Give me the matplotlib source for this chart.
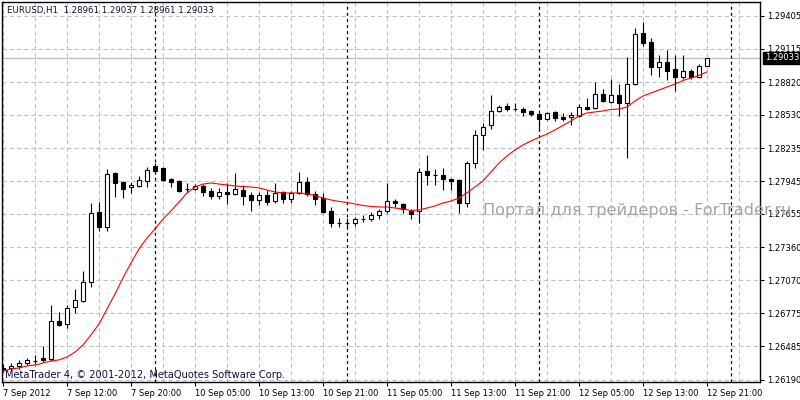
import matplotlib
matplotlib.use('Agg')
import matplotlib.pyplot as plt
import numpy as np

plt.rcParams['lines.scale_dashes'] = False
plt.rcParams['font.family'] = ['DejaVu Sans']

# EURUSD H1, 7 Sep 2012 04:00 .. 12 Sep 2012 21:00
opens = [1.26284, 1.26293, 1.26311, 1.26337, 1.26355, 1.26381, 1.26372, 1.26708, 1.26682, 1.26832,
         1.26885, 1.27053, 1.27672, 1.27539, 1.28017, 1.27937, 1.27893, 1.27902, 1.27946, 1.28079,
         1.28061, 1.27964, 1.27946, 1.27875, 1.27875, 1.27902, 1.27858, 1.27813, 1.27849, 1.27831,
         1.27866, 1.27822, 1.27778, 1.27822, 1.27769, 1.27849, 1.27787, 1.27840, 1.27937, 1.27831,
         1.27796, 1.27681, 1.27575, 1.27575, 1.27575, 1.27610, 1.27610, 1.27645, 1.27681, 1.27769,
         1.27743, 1.27681, 1.27681, 1.28034, 1.27999, 1.27999, 1.27964, 1.27955, 1.27751, 1.28105,
         1.28353, 1.28441, 1.28565, 1.28609, 1.28582, 1.28582, 1.28565, 1.28538, 1.28494, 1.28556,
         1.28512, 1.28512, 1.28521, 1.28600, 1.28591, 1.28715, 1.28644, 1.28706, 1.28636, 1.28803,
         1.29254, 1.29175, 1.28954, 1.28998, 1.28936, 1.28865, 1.28918, 1.28865, 1.28961]
highs = [1.26328, 1.26337, 1.26364, 1.26381, 1.26408, 1.26487, 1.26850, 1.26788, 1.26850, 1.26991,
         1.27150, 1.27751, 1.27760, 1.28052, 1.28026, 1.27946, 1.27937, 1.27990, 1.28070, 1.28105,
         1.28070, 1.27973, 1.27955, 1.27928, 1.27919, 1.27919, 1.27884, 1.27884, 1.27928, 1.28017,
         1.27911, 1.27849, 1.27849, 1.27866, 1.27928, 1.27858, 1.27858, 1.28026, 1.27981, 1.27858,
         1.27840, 1.27716, 1.27619, 1.27619, 1.27628, 1.27645, 1.27672, 1.27698, 1.27928, 1.27787,
         1.27751, 1.27698, 1.28061, 1.28176, 1.28052, 1.28061, 1.27973, 1.27964, 1.28123, 1.28397,
         1.28459, 1.28706, 1.28618, 1.28636, 1.28636, 1.28600, 1.28574, 1.28547, 1.28556, 1.28565,
         1.28547, 1.28556, 1.28627, 1.28680, 1.28821, 1.28759, 1.28848, 1.28803, 1.29042, 1.29299,
         1.29352, 1.29210, 1.29060, 1.29104, 1.29060, 1.29060, 1.28936, 1.28980, 1.29037]
lows = [1.26258, 1.26266, 1.26284, 1.26319, 1.26328, 1.26346, 1.26355, 1.26664, 1.26647, 1.26779,
        1.26876, 1.27009, 1.27504, 1.27504, 1.27805, 1.27796, 1.27840, 1.27893, 1.27893, 1.28026,
        1.27946, 1.27893, 1.27849, 1.27840, 1.27866, 1.27813, 1.27787, 1.27787, 1.27743, 1.27822,
        1.27734, 1.27681, 1.27734, 1.27734, 1.27751, 1.27751, 1.27751, 1.27831, 1.27813, 1.27734,
        1.27663, 1.27539, 1.27539, 1.27530, 1.27548, 1.27584, 1.27592, 1.27610, 1.27663, 1.27716,
        1.27663, 1.27610, 1.27575, 1.27911, 1.27911, 1.27866, 1.27866, 1.27663, 1.27716, 1.28061,
        1.28220, 1.28406, 1.28556, 1.28565, 1.28565, 1.28521, 1.28521, 1.28397, 1.28485, 1.28476,
        1.28476, 1.28441, 1.28512, 1.28574, 1.28582, 1.28644, 1.28636, 1.28521, 1.28149, 1.28795,
        1.29139, 1.28883, 1.28865, 1.28839, 1.28742, 1.28848, 1.28848, 1.28857, 1.28961]
closes = [1.26293, 1.26311, 1.26337, 1.26364, 1.26357, 1.26364, 1.26708, 1.26673, 1.26823, 1.26894,
          1.27053, 1.27663, 1.27539, 1.28008, 1.27928, 1.27875, 1.27911, 1.27955, 1.28043, 1.28034,
          1.27955, 1.27937, 1.27858, 1.27877, 1.27902, 1.27849, 1.27813, 1.27849, 1.27831, 1.27875,
          1.27813, 1.27778, 1.27822, 1.27760, 1.27840, 1.27787, 1.27840, 1.27937, 1.27831, 1.27787,
          1.27672, 1.27575, 1.27577, 1.27574, 1.27610, 1.27612, 1.27645, 1.27681, 1.27769, 1.27751,
          1.27698, 1.27654, 1.28026, 1.27999, 1.28001, 1.27964, 1.27946, 1.27751, 1.28105, 1.28353,
          1.28423, 1.28565, 1.28600, 1.28582, 1.28584, 1.28556, 1.28538, 1.28494, 1.28547, 1.28503,
          1.28494, 1.28529, 1.28600, 1.28582, 1.28715, 1.28653, 1.28706, 1.28636, 1.28803, 1.29245,
          1.29166, 1.28954, 1.28998, 1.28918, 1.28865, 1.28918, 1.28865, 1.28963, 1.29033]
# moving average (red line)
ma = [1.26266, 1.26284, 1.26293, 1.26311, 1.26319, 1.26337, 1.26355, 1.26364, 1.26390, 1.26434,
      1.26496, 1.26585, 1.26682, 1.26814, 1.26947, 1.27089, 1.27221, 1.27345, 1.27442, 1.27522,
      1.27610, 1.27681, 1.27760, 1.27840, 1.27893, 1.27919, 1.27928, 1.27919, 1.27911, 1.27902,
      1.27897, 1.27893, 1.27884, 1.27866, 1.27849, 1.27840, 1.27840, 1.27840, 1.27831, 1.27818,
      1.27796, 1.27778, 1.27765, 1.27756, 1.27743, 1.27729, 1.27721, 1.27716, 1.27716, 1.27707,
      1.27698, 1.27685, 1.27690, 1.27707, 1.27725, 1.27751, 1.27769, 1.27796, 1.27840, 1.27893,
      1.27946, 1.28026, 1.28105, 1.28167, 1.28220, 1.28264, 1.28300, 1.28331, 1.28361, 1.28397,
      1.28437, 1.28476, 1.28521, 1.28547, 1.28556, 1.28565, 1.28578, 1.28582, 1.28600, 1.28653,
      1.28697, 1.28724, 1.28750, 1.28777, 1.28803, 1.28834, 1.28857, 1.28879, 1.28910]

price_ticks = [1.29405, 1.29115, 1.28820, 1.28530, 1.28235, 1.27945,
               1.27655, 1.27360, 1.27070, 1.26775, 1.26485, 1.26190]
time_labels = ["7 Sep 2012", "7 Sep 12:00", "7 Sep 20:00", "10 Sep 05:00",
               "10 Sep 13:00", "10 Sep 21:00", "11 Sep 05:00", "11 Sep 13:00",
               "11 Sep 21:00", "12 Sep 05:00", "12 Sep 13:00", "12 Sep 21:00"]
day_starts = [19, 43, 67, 91]   # bar index of 00:00 for 10, 11, 12, 13 Sep

fig = plt.figure(figsize=(8, 4), dpi=100)
ax = fig.add_axes([2 / 800, 18 / 400, 758 / 800, 380 / 400])

x = np.arange(len(closes))
o = np.array(opens)
c = np.array(closes)

ax.vlines(x, lows, highs, color='black', linewidth=0.8, zorder=3)
up = c >= o
body = np.maximum(np.abs(c - o), 0.000012)
ax.bar(x[up], body[up], bottom=np.minimum(o, c)[up], width=0.6,
       color='white', edgecolor='black', linewidth=0.8, zorder=4)
ax.bar(x[~up], body[~up], bottom=np.minimum(o, c)[~up], width=0.6,
       color='black', edgecolor='black', linewidth=0.8, zorder=4)

ax.plot(x, ma, color='red', linewidth=0.8, zorder=5)

ax.axhline(closes[-1], color='#c0c0c0', linewidth=1, zorder=1)
for d in day_starts:
    ax.axvline(d, color='black', linewidth=0.9, linestyle=(0, (2.2, 2.2)), zorder=2)

ax.set_xlim(-0.125, 94.625)
ax.set_ylim(1.26169, 1.29528)

ax.yaxis.tick_right()
ax.set_yticks(price_ticks)
ax.set_yticklabels([f"{v:.5f}" for v in price_ticks])
ax.set_xticks(np.arange(0, 89, 8))
ax.set_xticklabels(time_labels)
ax.set_xticks(np.arange(0, 95, 4), minor=True)
for lbl in ax.get_xticklabels():
    lbl.set_ha('left')
ax.tick_params(axis='both', which='major', length=3, width=0.8, labelsize=6,
               pad=2, colors='black')
ax.tick_params(axis='x', which='minor', length=0)

ax.grid(True, axis='y', color='#c0c0c0', linewidth=0.8, linestyle=(0, (3, 2.2)), zorder=0)
ax.grid(True, axis='x', which='both', color='#c0c0c0', linewidth=0.8,
        linestyle=(0, (3, 2.2)), zorder=0)
ax.set_axisbelow(True)
for s in ax.spines.values():
    s.set_color('black')
    s.set_linewidth(1)

fig.text(7 / 800, 1 - 10 / 400, "EURUSD,H1  1.28961 1.29037 1.28961 1.29033",
         fontsize=6.2, color='#101030', va='center', ha='left')
fig.text(5 / 800, 1 - 375 / 400, "MetaTrader 4, © 2001-2012, MetaQuotes Software Corp.",
         fontsize=7.1, color='#101040', va='center', ha='left')
# watermark runs over the price scale, as in the terminal screenshot
ax.text(60, 1.27681, "Портал для трейдеров - ForTrader.ru", fontsize=11.6,
        color='#aaa2a2', va='center', ha='left', clip_on=False, zorder=10)

ax.annotate(f"{closes[-1]:.5f}", xy=(1, closes[-1]), xycoords=('axes fraction', 'data'),
            xytext=(3.5, 0), textcoords='offset points', fontsize=6, color='white',
            va='center', ha='left', annotation_clip=False,
            bbox=dict(boxstyle='square,pad=0.2', fc='black', ec='black'))

fig.savefig('out.png', dpi=100)
